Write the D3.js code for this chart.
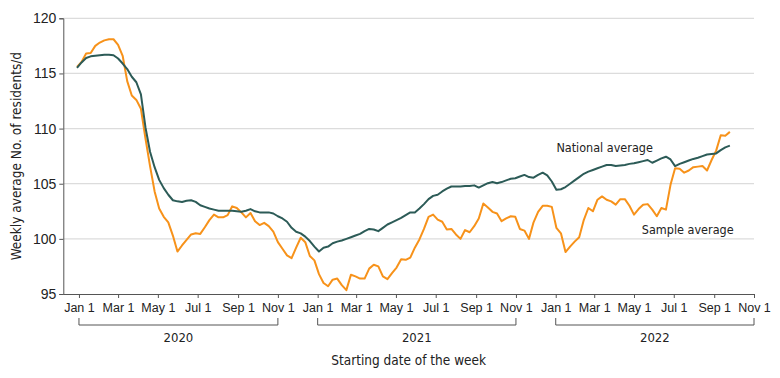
<!DOCTYPE html>
<html>
<head>
<meta charset="utf-8">
<script src="https://cdn.jsdelivr.net/npm/d3@7"></script>
<style>
    body { margin: 0; background: #fff; }
    svg { display: block; font-family: "DejaVu Sans Condensed", "Liberation Sans Narrow", sans-serif; }
    .grid line { stroke: #dcdcdc; stroke-width: 1.2; }
    .axis path, .axis line { stroke: #555; }
    .axis text { fill: #222; }
</style>
</head>
<body>
<svg id="chart" width="780" height="378"></svg>
<script>
// weekly series, first week starts Sun Dec 29 2019
const firstWeek = "2019-12-29";

const nationalAvg = [
    115.5, 116.0, 116.4, 116.55, 116.6, 116.65, 116.7, 116.7, 116.65, 116.35,
    115.9, 115.4, 114.7, 114.2, 113.1, 110.1, 107.9, 106.5, 105.35, 104.6,
    104.0, 103.5, 103.4, 103.35, 103.45, 103.5, 103.35, 103.05, 102.9, 102.75,
    102.65, 102.55, 102.55, 102.55, 102.55, 102.5, 102.45, 102.55, 102.7, 102.5,
    102.4, 102.4, 102.4, 102.3, 102.05, 101.85, 101.55, 101.0, 100.65, 100.5,
    100.2, 99.8, 99.3, 98.85, 99.2, 99.3, 99.6, 99.75, 99.85, 100.0,
    100.15, 100.3, 100.45, 100.7, 100.9, 100.85, 100.7, 101.0, 101.3, 101.5,
    101.7, 101.9, 102.15, 102.4, 102.4, 102.75, 103.15, 103.6, 103.9, 104.0,
    104.3, 104.55, 104.75, 104.75, 104.75, 104.8, 104.8, 104.85, 104.65, 104.85,
    105.05, 105.15, 105.05, 105.15, 105.3, 105.45, 105.5, 105.65, 105.8, 105.6,
    105.55, 105.8, 106.0, 105.75, 105.2, 104.45, 104.5, 104.7, 105.0, 105.3,
    105.6, 105.9, 106.1, 106.25, 106.4, 106.55, 106.7, 106.7, 106.6, 106.65,
    106.7, 106.8, 106.85, 106.95, 107.05, 107.15, 106.9, 107.1, 107.3, 107.45,
    107.2, 106.6, 106.8, 106.95, 107.1, 107.25, 107.35, 107.5, 107.65, 107.7,
    107.75, 108.05, 108.3, 108.45
];

const sampleAvg = [
    115.6, 116.05, 116.8, 116.85, 117.5, 117.8, 118.0, 118.1, 118.1, 117.6,
    116.6, 114.3, 113.0, 112.6, 111.8, 109.1, 106.6, 104.3, 102.75, 102.0,
    101.5, 100.3, 98.85, 99.4, 99.9, 100.4, 100.5, 100.45, 101.05, 101.7,
    102.2, 101.95, 101.95, 102.15, 102.95, 102.8, 102.4, 101.95, 102.35, 101.6,
    101.25, 101.45, 101.15, 100.65, 99.7, 99.1, 98.5, 98.25, 99.2, 100.1,
    99.7, 98.45, 98.05, 96.8, 96.0, 95.7, 96.3, 96.4, 95.8, 95.35,
    96.75, 96.6, 96.4, 96.4, 97.3, 97.65, 97.5, 96.6, 96.35, 96.9,
    97.4, 98.15, 98.1, 98.3, 99.2, 99.95, 100.9, 102.0, 102.2, 101.75,
    101.55, 100.85, 100.9, 100.4, 100.0, 100.8, 100.6, 101.15, 101.85, 103.2,
    102.85, 102.45, 102.3, 101.6, 101.85, 102.05, 102.0, 100.9, 100.75, 100.0,
    101.5, 102.45, 103.0, 103.0, 102.9, 101.0, 100.5, 98.8, 99.3, 99.75,
    100.15, 101.7, 102.8, 102.5, 103.55, 103.85, 103.55, 103.4, 103.1, 103.6,
    103.6, 103.0, 102.2, 102.7, 103.1, 103.15, 102.65, 102.05, 102.8, 102.65,
    104.9, 106.4, 106.35, 106.0, 106.2, 106.5, 106.55, 106.6, 106.2, 107.15,
    108.0, 109.4, 109.35, 109.7
];

const yTicks = [95, 100, 105, 110, 115, 120];
const years = ["2020", "2021", "2022"];
const seriesLabels = ["National average", "Sample average"];

const colors = { national: "#2c5b57", sample: "#f7921a" };

const parse = d3.timeParse("%Y-%m-%d");
const startDate = parse(firstWeek);
const weekDate = i => d3.timeDay.offset(startDate, i * 7);

function drawChart() {
    const svg = d3.select("#chart");
    const margin = { left: 63.3, right: 754, top: 18.3, bottom: 294 };

    const x = d3.scaleTime()
        .domain([parse("2019-12-08"), parse("2022-11-01")])
        .range([margin.left, margin.right]);
    const y = d3.scaleLinear()
        .domain([95, 120])
        .range([margin.bottom, margin.top]);

    // gridlines
    svg.append("g").attr("class", "grid")
        .selectAll("line")
        .data(yTicks.filter(t => t > 95))
        .enter().append("line")
        .attr("x1", margin.left).attr("x2", margin.right)
        .attr("y1", d => y(d)).attr("y2", d => y(d));

    // y axis
    svg.append("g").attr("class", "axis")
        .attr("transform", `translate(${margin.left},0)`)
        .call(d3.axisLeft(y).tickValues(yTicks).tickSize(4).tickPadding(3))
        .selectAll("text").style("font-size", "14px");

    // x axis
    const monthTicks = d3.timeMonth.range(parse("2020-01-01"), parse("2022-11-02"), 2);
    svg.append("g").attr("class", "axis")
        .attr("transform", `translate(0,${margin.bottom})`)
        .call(d3.axisBottom(x).tickValues(monthTicks).tickFormat(d3.timeFormat("%b %-d")).tickSize(4).tickSizeOuter(0).tickPadding(5))
        .selectAll("text").style("font-size", "12.5px");

    // year brackets
    const brackets = svg.append("g");
    years.forEach(yr => {
        const x0 = x(parse(`${yr}-01-01`));
        const x1 = x(parse(`${yr}-11-01`));
        brackets.append("path")
            .attr("d", `M${x0},318V325H${x1}V318`)
            .attr("fill", "none")
            .attr("stroke", "#555");
        brackets.append("text")
            .attr("x", (x0 + x1) / 2)
            .attr("y", 342)
            .attr("text-anchor", "middle")
            .attr("fill", "#222")
            .style("font-size", "13px")
            .text(yr);
    });

    svg.append("text")
        .attr("x", (margin.left + margin.right) / 2)
        .attr("y", 365)
        .attr("text-anchor", "middle")
        .attr("fill", "#222")
        .style("font-size", "13.5px")
        .text("Starting date of the week");

    svg.append("text")
        .attr("transform", `translate(21,${(margin.top + margin.bottom) / 2}) rotate(-90)`)
        .attr("text-anchor", "middle")
        .attr("fill", "#222")
        .style("font-size", "13.5px")
        .text("Weekly average No. of residents/d");

    const line = d3.line()
        .x((d, i) => x(weekDate(i)))
        .y(d => y(d));

    svg.append("path")
        .datum(sampleAvg)
        .attr("fill", "none")
        .attr("stroke", colors.sample)
        .attr("stroke-width", 2)
        .attr("stroke-linejoin", "round")
        .attr("d", line);

    svg.append("path")
        .datum(nationalAvg)
        .attr("fill", "none")
        .attr("stroke", colors.national)
        .attr("stroke-width", 2)
        .attr("stroke-linejoin", "round")
        .attr("d", line);

    svg.append("text")
        .attr("x", x(parse("2022-01-02")))
        .attr("y", y(107.9))
        .attr("fill", "#222")
        .style("font-size", "12.5px")
        .text(seriesLabels[0]);

    svg.append("text")
        .attr("x", x(parse("2022-05-13")))
        .attr("y", y(100.45))
        .attr("fill", "#222")
        .style("font-size", "12.5px")
        .text(seriesLabels[1]);
}

drawChart();
</script>
</body>
</html>
